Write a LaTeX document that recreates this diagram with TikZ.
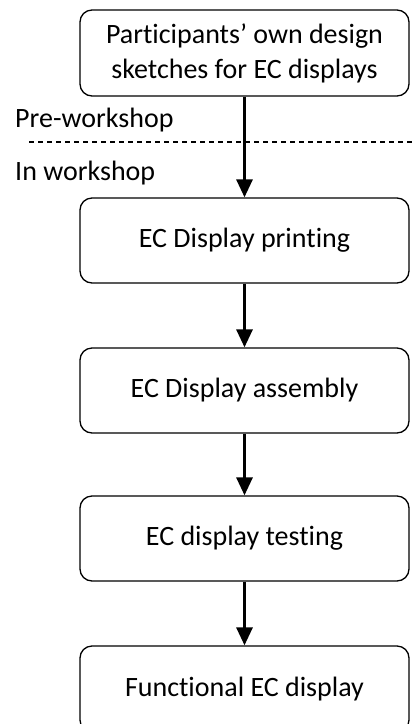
\documentclass[tikz,border=0pt]{standalone}
\usepackage{fontspec}
\setmainfont[Ligatures=CommonOff]{Carlito}
\usepackage{tikz}
\usetikzlibrary{arrows.meta,positioning,calc}

\begin{document}
\begin{tikzpicture}[x=1pt, y=-1pt, font=\fontsize{28}{35}\selectfont,
    stage/.style={draw, line width=1.3pt, rounded corners=12pt,
        minimum width=329pt, minimum height=85pt, inner sep=0pt, align=center},
    flow/.style={-{Triangle[width=16pt,length=18pt]}, line width=3pt}]
    \useasboundingbox (0, 0) rectangle (413, 724);
    \clip (0, 0) rectangle (413, 724);

    % Stages
    \node[stage, minimum height=86pt] (sketch) at (244.5, 53) {Participants’ own design\\sketches for EC displays};
    \node[stage] (print) at (244.5, 240.5) {EC Display printing};
    \node[stage] (assembly) at (244.5, 390.5) {EC Display assembly};
    \node[stage] (testing) at (244.5, 538.5) {EC display testing};
    \node[stage, minimum height=86pt] (functional) at (244.5, 689) {Functional EC display};

    % Workshop boundary
    \coordinate (dashL) at (29, 142);
    \coordinate (dashR) at (413, 142);
    \draw[line width=1.2pt, dash pattern=on 5pt off 4pt] (dashL) -- (dashR);
    \node[anchor=base west, inner sep=0pt] (pre) at (15, 127) {Pre-workshop};
    \node[anchor=base west, inner sep=0pt] (in) at (15, 180) {In workshop};

    % Arrows
    \draw[flow] (sketch) -- (print);
    \draw[flow] (print) -- (assembly);
    \draw[flow] (assembly) -- (testing);
    \draw[flow] (testing) -- (functional);
\end{tikzpicture}
\end{document}
